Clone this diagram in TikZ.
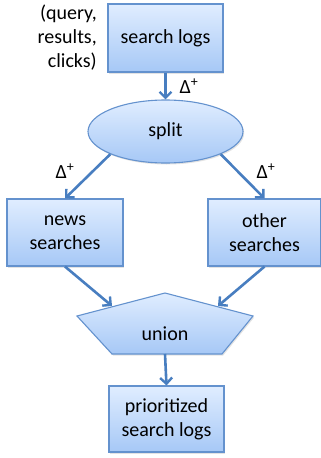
\documentclass[tikz,border=0pt]{standalone}
\usepackage{fontspec}
\setmainfont{Carlito}
\usetikzlibrary{arrows.meta,shapes.geometric,shadows}
\definecolor{boxtop}{RGB}{224,237,255}
\definecolor{boxbot}{RGB}{166,200,246}
\definecolor{boxedge}{RGB}{100,146,206}
\definecolor{flow}{RGB}{72,126,192}
\tikzset{
  stage/.style={draw=boxedge, line width=1.1pt, top color=boxtop, bottom color=boxbot,
    font=\fontsize{20}{24}\selectfont, align=center, inner sep=0pt,
    drop shadow={shadow xshift=1.2pt, shadow yshift=-1.5pt, opacity=0.22}},
  flowarrow/.style={draw=flow, line width=2.6pt, -{Straight Barb[length=6pt,width=12pt,line width=2.4pt]}},
  delta/.style={font=\fontsize{20}{22}\selectfont, inner sep=0pt},
  note/.style={font=\fontsize{20}{24}\selectfont, align=right, inner sep=0pt}
}
\begin{document}
\begin{tikzpicture}[x=1pt,y=-1pt]
\useasboundingbox (0,0) rectangle (321,458);

% boxes and the split ellipse
\node[stage, minimum width=115pt, minimum height=68pt] (logs) at (165.5,38) {search logs};
\node[stage, ellipse, minimum width=155pt, minimum height=63pt] (split) at (165.5,131.5) {split};
\node[stage, minimum width=116pt, minimum height=67pt] (news) at (65,232.5) {news\\searches};
\node[stage, minimum width=113pt, minimum height=67pt] (other) at (264.5,232.5) {other\\searches};
\node[stage, minimum width=115pt, minimum height=66pt] (prio) at (166.5,419) {prioritized\\search logs};

% the union pentagon
\coordinate (uTop) at (165,293);
\coordinate (uLeft) at (77,316);
\coordinate (uRight) at (253,316);
\coordinate (uBL) at (112,354);
\coordinate (uBR) at (222,354);
\path[draw=boxedge, line width=1.1pt, top color=boxtop, bottom color=boxbot,
      drop shadow={shadow xshift=1.2pt, shadow yshift=-1.5pt, opacity=0.22}]
  (uTop) -- (uRight) -- (uBR) -- (uBL) -- (uLeft) -- cycle;
\node[font=\fontsize{20}{24}\selectfont, inner sep=0pt] (union) at (165,334) {union};
\coordinate (uInL) at (112,306);
\coordinate (uInR) at (218,306);
\coordinate (uOut) at (165,354);

% input note
\node[note, anchor=east] (tuple) at (97,38) {(query,\\results,\\clicks)};

% connectors
\draw[flowarrow] (logs.south) -- (split.north);
\draw[flowarrow] (split.south west) -- (news.north);
\draw[flowarrow] (split.south east) -- (other.north);
\draw[flowarrow] (news.south) -- (uInL);
\draw[flowarrow] (other.south) -- (uInR);
\draw[flowarrow] (uOut) -- (prio.north);

% change labels
\node[delta] (d1) at (189,86) {Δ\textsuperscript{+}};
\node[delta] (d2) at (65,171) {Δ\textsuperscript{+}};
\node[delta] (d3) at (266,171) {Δ\textsuperscript{+}};
\end{tikzpicture}
\end{document}
